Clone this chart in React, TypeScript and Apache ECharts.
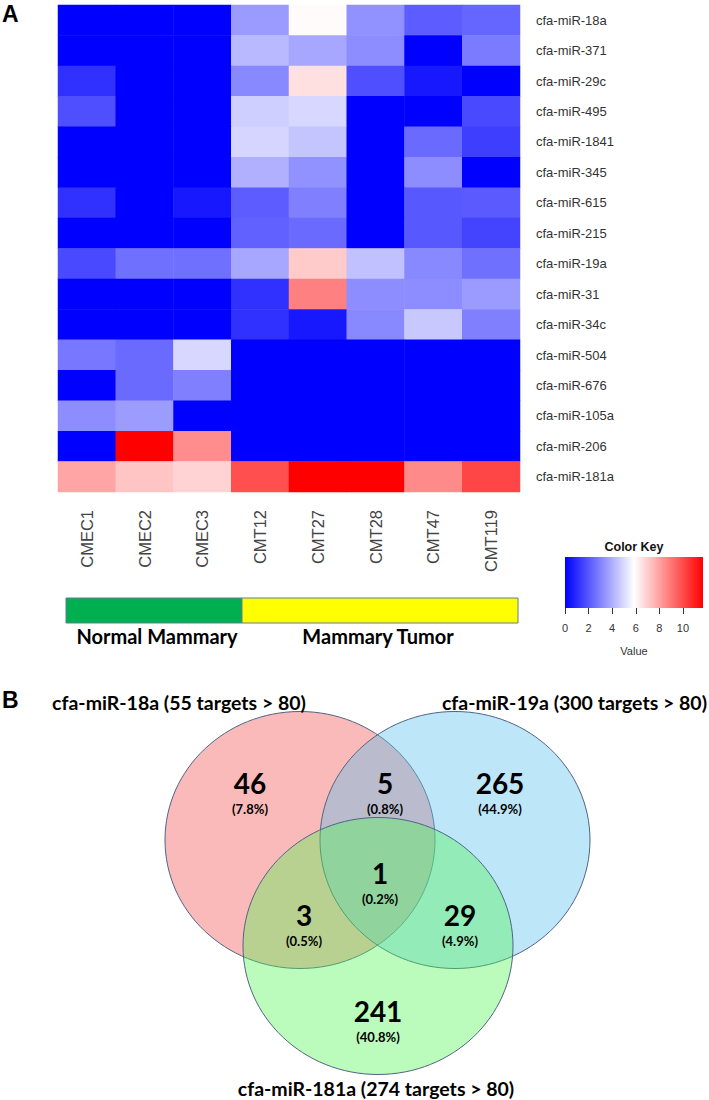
import React, { useEffect, useRef } from "react";
import * as echarts from "echarts";

const rowNames = [
  "cfa-miR-18a", "cfa-miR-371", "cfa-miR-29c", "cfa-miR-495", "cfa-miR-1841",
  "cfa-miR-345", "cfa-miR-615", "cfa-miR-215", "cfa-miR-19a", "cfa-miR-31",
  "cfa-miR-34c", "cfa-miR-504", "cfa-miR-676", "cfa-miR-105a", "cfa-miR-206",
  "cfa-miR-181a",
];
const sampleNames = ["CMEC1", "CMEC2", "CMEC3", "CMT12", "CMT27", "CMT28", "CMT47", "CMT119"];

// expression values, one row per miRNA, columns in sampleNames order
const r18a = [0, 0, 0, 3.5, 5.9, 3.3, 2.1, 2.3];
const r371 = [0, 0, 0, 4.2, 3.8, 3.2, 0, 2.8];
const r29c = [1.1, 0, 0, 3.1, 6.5, 1.8, 0.55, 0];
const r495 = [1.8, 0, 0, 4.7, 4.9, 0, 0, 1.65];
const r1841 = [0, 0, 0, 4.85, 4.45, 0, 2.4, 1.4];
const r345 = [0, 0, 0, 4.0, 3.3, 0, 3.2, 0];
const r615 = [1.1, 0, 0.55, 2.1, 2.9, 0, 2.0, 2.05];
const r215 = [0, 0, 0, 2.2, 2.4, 0, 2.0, 1.55];
const r19a = [1.65, 2.55, 2.55, 3.8, 7.0, 4.4, 3.1, 2.55];
const r31 = [0, 0, 0, 1.1, 8.7, 3.2, 3.2, 3.5];
const r34c = [0, 0, 0, 1.1, 0.55, 3.1, 4.55, 2.9];
const r504 = [2.7, 2.4, 4.9, 0, 0, 0, 0, 0];
const r676 = [0, 2.4, 2.9, 0, 0, 0, 0, 0];
const r105a = [3.2, 3.55, 0, 0, 0, 0, 0, 0];
const r206 = [0, 11.6, 8.4, 0, 0, 0, 0, 0];
const r181a = [7.85, 7.15, 6.8, 9.8, 11.6, 11.6, 8.45, 10.0];
const exprRows = [r18a, r371, r29c, r495, r1841, r345, r615, r215, r19a, r31, r34c, r504, r676, r105a, r206, r181a];

const keyTicks = [0, 2, 4, 6, 8, 10];
const groupNames = ["Normal Mammary", "Mammary Tumor"];

// Venn
const vennTitles = [
  "cfa-miR-18a (55 targets > 80)",
  "cfa-miR-19a (300 targets > 80)",
  "cfa-miR-181a (274 targets > 80)",
];
const vennCounts = [46, 5, 265, 3, 1, 29, 241];
const vennPercents = ["(7.8%)", "(0.8%)", "(44.9%)", "(0.5%)", "(0.2%)", "(4.9%)", "(40.8%)"];

const ARIAL = "'Liberation Sans', Arial, sans-serif";
const CALIBRI = "Lato, 'Open Sans', sans-serif";

export default function App() {
  const ref = useRef<HTMLDivElement>(null);
  useEffect(() => {
    document.body.style.margin = "0";
    const chart = echarts.init(ref.current!, null, { renderer: "svg" });

    const heatData: number[][] = [];
    exprRows.forEach((row, ri) => row.forEach((v, ci) => heatData.push([ci, ri, v])));

    // layout constants
    const keyX = 565, keyY = 557, keyW = 138, keyH = 51;
    const barX = 66, barY = 598, barSplit = 242, barEnd = 518, barH = 25;
    const groupCenters = [157, 378];

    // Venn geometry (layout)
    const ell = [
      { cx: 300, cy: 840, fill: "rgba(245,82,82,0.4)" },
      { cx: 455, cy: 840, fill: "rgba(90,192,237,0.4)" },
      { cx: 378, cy: 946, fill: "rgba(85,245,85,0.4)" },
    ];
    const rx = 135, ry = 128.5;
    const titlePos: [number, number, string][] = [[179, 702, "center"], [707, 702, "right"], [376, 1088, "center"]];
    const regionPos = [[250, 783], [385, 783], [500, 783], [304, 915], [380, 873], [460, 915], [378, 1011]];

    const graphics: any[] = [
      { type: "text", left: 2, top: 2, style: { text: "A", font: `bold 23px ${ARIAL}`, fill: "#000" } },
      { type: "text", x: 2, y: 700, style: { text: "B", font: `bold 23px ${ARIAL}`, fill: "#000", verticalAlign: "middle" } },
      {
        type: "rect",
        shape: { x: keyX, y: keyY, width: keyW, height: keyH },
        style: {
          fill: new echarts.graphic.LinearGradient(0, 0, 1, 0, [
            { offset: 0, color: "#0000ff" },
            { offset: 0.5, color: "#ffffff" },
            { offset: 1, color: "#ff0000" },
          ]),
        },
      },
      { type: "text", x: keyX + keyW / 2, y: keyY - 10, style: { text: "Color Key", font: `bold 12.5px ${ARIAL}`, fill: "#111", align: "center", verticalAlign: "middle" } },
      { type: "rect", shape: { x: barX, y: barY, width: barSplit - barX, height: barH }, style: { fill: "#00b050", stroke: "#5f7f8f", lineWidth: 1 } },
      { type: "rect", shape: { x: barSplit, y: barY, width: barEnd - barSplit, height: barH }, style: { fill: "#ffff00", stroke: "#5f7f8f", lineWidth: 1 } },
    ];
    groupNames.forEach((g, i) =>
      graphics.push({ type: "text", x: groupCenters[i], y: 636, style: { text: g, font: `bold 20px ${CALIBRI}`, fill: "#000", align: "center", verticalAlign: "middle" } })
    );
    ell.forEach((e) =>
      graphics.push({ type: "ellipse", shape: { cx: e.cx, cy: e.cy, rx, ry }, style: { fill: e.fill, stroke: "#4f6485", lineWidth: 1 } })
    );
    vennTitles.forEach((t, i) =>
      graphics.push({ type: "text", x: titlePos[i][0], y: titlePos[i][1], style: { text: t, font: `bold 19.5px ${CALIBRI}`, fill: "#000", align: titlePos[i][2], verticalAlign: "middle" } })
    );
    vennCounts.forEach((c, i) => {
      graphics.push({ type: "text", x: regionPos[i][0], y: regionPos[i][1], style: { text: String(c), font: `bold 28px ${CALIBRI}`, fill: "#000", align: "center", verticalAlign: "middle" } });
      graphics.push({ type: "text", x: regionPos[i][0], y: regionPos[i][1] + 26, style: { text: vennPercents[i], font: `bold 13px ${CALIBRI}`, fill: "#000", align: "center", verticalAlign: "middle" } });
    });

    chart.setOption({
      animation: false,
      grid: [
        { left: 58, top: 5, width: 462, height: 487 },
        { left: keyX, top: keyY, width: keyW, height: keyH },
      ],
      xAxis: [
        {
          type: "category", data: sampleNames, gridIndex: 0, position: "bottom",
          axisLine: { show: false }, axisTick: { show: false }, splitLine: { show: false },
          axisLabel: { rotate: 90, margin: 18, fontSize: 16.5, color: "#444", fontFamily: ARIAL, padding: [0, 0, 12, 0] },
        },
        {
          type: "value", gridIndex: 1, min: 0, max: 11.7, interval: 2,
          axisLine: { show: false }, splitLine: { show: false },
          axisTick: { show: true, length: 6, lineStyle: { color: "#333" }, customValues: keyTicks } as any,
          axisLabel: { fontSize: 11, color: "#333", margin: 14, fontFamily: ARIAL, customValues: keyTicks } as any,
          name: "Value", nameLocation: "middle", nameGap: 37,
          nameTextStyle: { fontSize: 11, color: "#333", fontFamily: ARIAL },
        },
      ],
      yAxis: [
        {
          type: "category", data: rowNames, gridIndex: 0, inverse: true, position: "right",
          axisLine: { show: false }, axisTick: { show: false }, splitLine: { show: false },
          axisLabel: { margin: 16, fontSize: 13, color: "#333", fontFamily: ARIAL },
        },
        { type: "value", gridIndex: 1, show: false, min: 0, max: 1 },
      ],
      visualMap: {
        type: "continuous", show: false, min: 0, max: 11.6, seriesIndex: 0,
        inRange: { color: ["#0000ff", "#ffffff", "#ff0000"] },
      },
      series: [
        {
          type: "heatmap", xAxisIndex: 0, yAxisIndex: 0, data: heatData,
          itemStyle: { borderWidth: 0 }, emphasis: { disabled: true },
        },
      ],
      graphic: graphics,
    });
    return () => chart.dispose();
  }, []);
  return <div ref={ref} style={{ width: 709, height: 1100 }} />;
}
